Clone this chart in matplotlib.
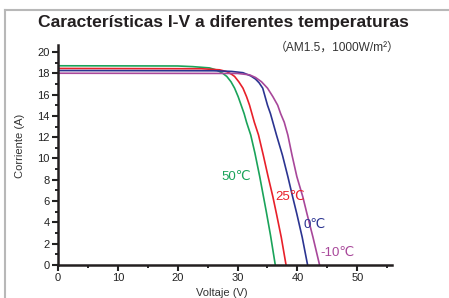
import numpy as np
import matplotlib as mpl
mpl.use('Agg')
import matplotlib.pyplot as plt
from matplotlib.lines import Line2D
from matplotlib.ticker import MultipleLocator

plt.rcParams['font.family'] = ['Liberation Sans', 'DejaVu Sans', 'Noto Sans CJK SC']

# I-V curves (voltage V, current A)
v_50 = [0, 20, 22.5, 25.3, 26.5, 27.5, 28.2, 28.9, 29.5, 30.1, 30.6, 31.1, 31.5, 32.2,
        32.9, 33.7, 34.3, 34.8, 35.5, 36.3]
i_50 = [18.7, 18.68, 18.62, 18.5, 18.3, 18.0, 17.7, 17.2, 16.6, 15.8, 15.0, 14.2, 13.4, 12.2,
        10.5, 8.3, 6.5, 5.0, 2.8, 0]

v_25 = [0, 24, 27, 28.2, 29.0, 29.5, 30.2, 30.9, 31.5, 32.0, 32.4, 32.8, 33.5,
        34.3, 35.1, 35.9, 36.5, 37.3, 38.1]
i_25 = [18.45, 18.42, 18.32, 18.15, 17.9, 17.7, 17.2, 16.6, 15.8, 15.0, 14.2, 13.4, 12.2,
        10.3, 8.3, 6.4, 4.8, 2.6, 0]

v_0 = [0, 26, 29, 30.9, 32.2, 33.0, 33.6, 34.2, 34.6, 35.0, 35.5, 35.9, 36.5,
       37.5, 38.4, 39.2, 39.9, 40.8, 41.7]
i_0 = [18.25, 18.23, 18.17, 18.05, 17.75, 17.45, 17.1, 16.6, 15.8, 15.0, 14.2, 13.4, 12.2,
       10.3, 8.3, 6.4, 4.8, 2.6, 0]

v_m10 = [0, 30, 32, 33.0, 34.0, 35.0, 35.9, 36.7, 37.2, 37.8, 38.4,
         39.1, 39.9, 40.9, 41.6, 42.6, 43.7]
i_m10 = [18.0, 17.98, 17.85, 17.6, 17.2, 16.6, 15.8, 15.0, 14.2, 13.4, 12.2,
         10.3, 8.3, 6.4, 4.8, 2.6, 0]

curves = [
    (v_50, i_50, '#1aa35a', '50℃', 29.8, 8.3),
    (v_25, i_25, '#e8202a', '25℃', 38.7, 6.4),
    (v_0, i_0, '#2b3491', '0℃', 42.8, 3.8),
    (v_m10, i_m10, '#a8479a', '-10℃', 46.7, 1.1),
]

fig = plt.figure(figsize=(4.49, 2.98), dpi=100)
ax = fig.add_axes([58/449, 33/298, (392-58)/449, (265-45)/298])

for v, i, c, lab, tx, ty in curves:
    ax.plot(v, i, color=c, lw=1.2, solid_joinstyle='round')
    ax.text(tx, ty, lab, color=c, fontsize=9.5, ha='center', va='center')

ax.set_xlim(0, 55.8)
ax.set_ylim(0, 20.65)
ax.xaxis.set_major_locator(MultipleLocator(10))
ax.xaxis.set_minor_locator(MultipleLocator(5))
ax.yaxis.set_major_locator(MultipleLocator(2))
ax.yaxis.set_minor_locator(MultipleLocator(1))
ax.tick_params(which='major', length=4, width=1.5, labelsize=8, colors='#222222', pad=2)
ax.tick_params(which='minor', length=2.5, width=1.2)
for s in ['top', 'right']:
    ax.spines[s].set_visible(False)
for s in ['left', 'bottom']:
    ax.spines[s].set_linewidth(1.8)
    ax.spines[s].set_color('#231f20')

fig.text(20/449, 1 - 146/298, 'Corriente (A)', rotation=90, ha='center', va='center',
         fontsize=8, color='#333333')
fig.text(222/449, 1 - 293/298, 'Voltaje (V)', ha='center', va='center',
         fontsize=8, color='#333333')

fig.text(38/449, 1 - 22/298, 'Características I-V a diferentes temperaturas',
         ha='left', va='center', fontsize=12.6, fontweight='bold', color='#231f20')
fig.text(400/449, 1 - 48/298, '（AM1.5，1000W/m²）', ha='right', va='center',
         fontsize=8.6, color='#333333', family=['Liberation Sans', 'Noto Sans CJK SC'])

# grey frame around the panel
fig.add_artist(Line2D([5/449, 1], [1 - 10/298, 1 - 10/298], color='#b8b8b8', lw=1.5))
fig.add_artist(Line2D([5/449, 5/449], [0, 1 - 10/298], color='#b8b8b8', lw=1.5))

fig.savefig('out.png', dpi=100)
